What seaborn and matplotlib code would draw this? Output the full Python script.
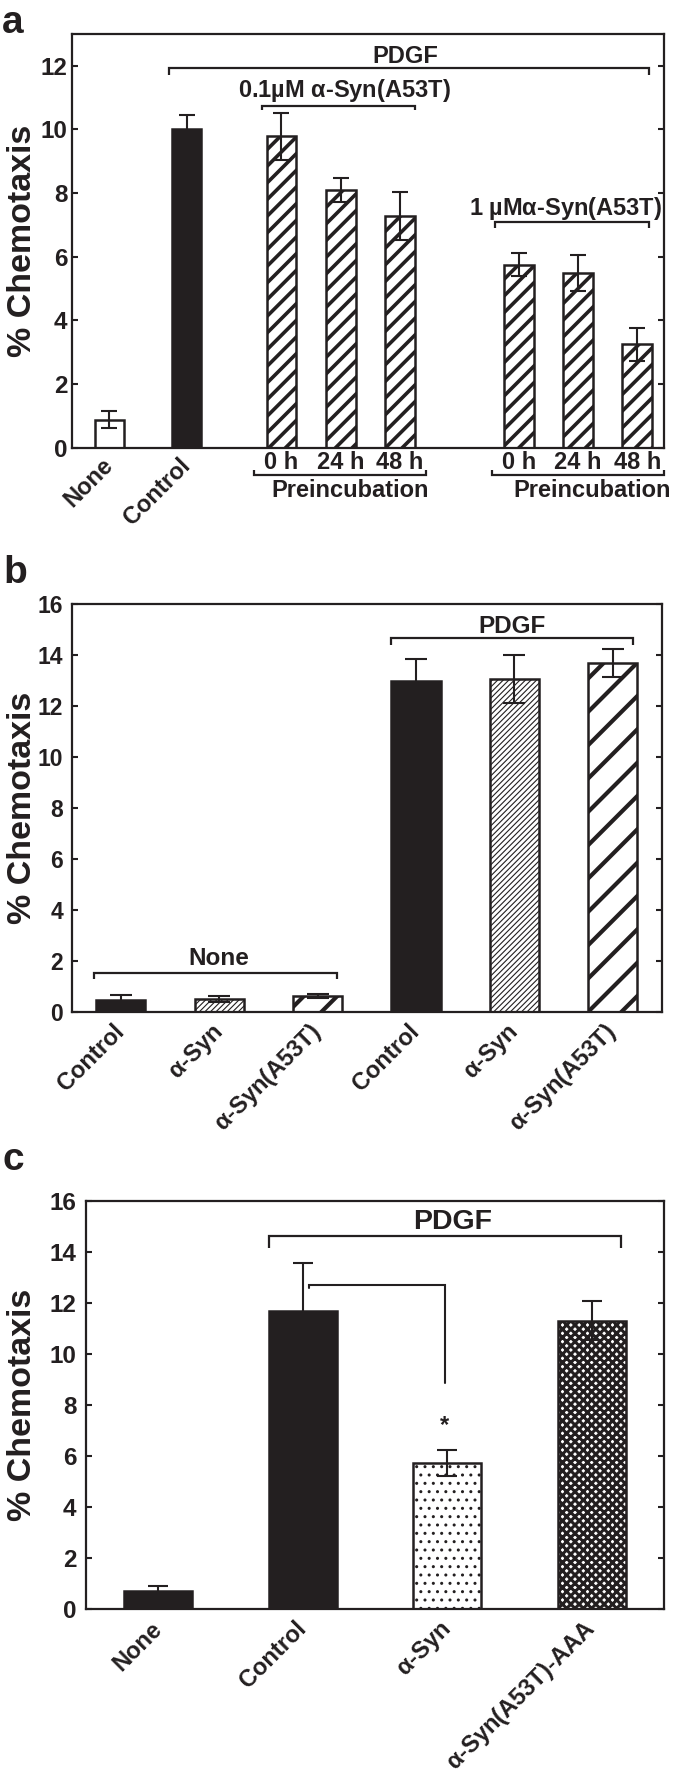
import numpy as np
import pandas as pd
import matplotlib
matplotlib.use("Agg")
import matplotlib.pyplot as plt
import matplotlib.transforms as mtransforms
import seaborn as sns

# ---------------- data ----------------
AL = r"$\mathrm{\alpha}$"
a_categories = ["None", "Control", "0 h", "24 h", "48 h", "0 h", "24 h", "48 h"]
a_values = [0.88, 10.02, 9.78, 8.10, 7.28, 5.75, 5.50, 3.25]
a_errors = [0.27, 0.44, 0.75, 0.38, 0.76, 0.37, 0.57, 0.51]

b_categories = ["Control", AL + "-Syn", AL + "-Syn(A53T)", "Control", AL + "-Syn", AL + "-Syn(A53T)"]
b_values = [0.47, 0.50, 0.62, 12.97, 13.05, 13.70]
b_errors = [0.18, 0.12, 0.08, 0.88, 0.95, 0.55]

c_categories = ["None", "Control", AL + "-Syn", AL + "-Syn(A53T)-AAA"]
c_values = [0.72, 11.70, 5.72, 11.31]
c_errors = [0.17, 1.85, 0.50, 0.78]

# ---------------- layout / style ----------------
a_positions = [0, 1.3, 2.9, 3.9, 4.9, 6.9, 7.9, 8.9]
b_positions = list(range(len(b_values)))
c_positions = list(range(len(c_values)))

BLACK = "#231f20"
a_styles = [("white", "", 1), (BLACK, "", 1)] + [("white", "//", 2.6)] * 6
b_styles = [(BLACK, "", 1), ("white", "//////", 0.8), ("white", "/", 3.0),
            (BLACK, "", 1), ("white", "//////", 0.8), ("white", "/", 3.0)]
c_styles = [(BLACK, "", 1), (BLACK, "", 1), ("white", "..", 1), ("white", "xxxx", 2.2)]

sns.set_theme(style="white")
plt.rcParams["font.family"] = ["Liberation Sans", "DejaVu Sans"]
plt.rcParams["font.weight"] = "bold"
plt.rcParams["axes.labelweight"] = "bold"
plt.rcParams["hatch.color"] = BLACK
plt.rcParams["hatch.linewidth"] = 2.0
plt.rcParams["text.color"] = BLACK
plt.rcParams["mathtext.fontset"] = "custom"
plt.rcParams["mathtext.rm"] = "Liberation Sans"
plt.rcParams["mathtext.it"] = "Liberation Sans:italic"
plt.rcParams["mathtext.bf"] = "Liberation Sans:bold"

W, H = 675, 1776
fig = plt.figure(figsize=(W / 100, H / 100), dpi=100)


def ax_rect(l, r, t, b):
    return [l / W, 1 - b / H, (r - l) / W, (b - t) / H]


axA = fig.add_axes(ax_rect(71.5, 664, 34, 447.7))
axB = fig.add_axes(ax_rect(71.7, 662, 604, 1012))
axC = fig.add_axes(ax_rect(86, 664, 1201, 1609))


def style_axes(ax, ymax, pad, left_px, width_px, ysize):
    ax.set_ylim(0, ymax)
    ax.set_yticks(np.arange(0, ymax + 0.1, 2) if ymax > 13 else np.arange(0, 13, 2))
    ax.set_facecolor("white")
    ax.grid(False)
    for s in ax.spines.values():
        s.set_visible(True)
        s.set_linewidth(1.6)
        s.set_color(BLACK)
    ax.tick_params(axis="y", which="both", direction="in", left=True, right=True,
                   length=4, width=1.5, color=BLACK, labelsize=ysize, pad=pad,
                   labelcolor=BLACK)
    ax.tick_params(axis="x", length=0, labelsize=17, labelcolor=BLACK, pad=2.5)
    ax.set_xlabel("")
    ax.set_ylabel("% Chemotaxis", fontsize=24.5, fontweight="bold", color=BLACK,
                  va="baseline")
    ax.yaxis.set_label_coords((31.0 - left_px) / width_px, 0.5)


def draw_bars(ax, positions, values, errors, styles, capsize):
    df = pd.DataFrame({"pos": positions, "value": values})
    sns.barplot(data=df, x="pos", y="value", native_scale=True, width=0.5,
                color="white", saturation=1, edgecolor=BLACK, linewidth=1.8,
                errorbar=None, ax=ax)
    for p, st in zip(ax.patches, styles):
        p.set_facecolor(st[0])
        p.set_hatch(st[1])
        if hasattr(p, "set_hatch_linewidth"):
            p.set_hatch_linewidth(st[2])
    ax.errorbar(positions, values, yerr=errors, fmt="none", ecolor=BLACK,
                elinewidth=1.5, capsize=capsize, capthick=1.5, zorder=5)


def bracket(ax, x0, x1, y, leg, transform=None, lw=1.6):
    kw = dict(color=BLACK, lw=lw, solid_joinstyle="miter", solid_capstyle="butt",
              clip_on=False)
    if transform is not None:
        kw["transform"] = transform
    ax.plot([x0, x0, x1, x1], [y + leg, y, y, y + leg], **kw)


def rotate_label(lbl, dy_px):
    lbl.set_rotation(45)
    lbl.set_ha("right")
    lbl.set_va("center")
    lbl.set_rotation_mode("anchor")
    off = mtransforms.ScaledTranslation(0, -dy_px / 100.0, fig.dpi_scale_trans)
    lbl.set_transform(lbl.get_transform() + off)


# ---------------- panel a ----------------
draw_bars(axA, a_positions, a_values, a_errors, a_styles, capsize=6)
style_axes(axA, 13, 3, 71.5, 592.5, 17.5)
axA.set_xlim(-0.64, 9.35)
axA.set_xticks(a_positions)
axA.set_xticklabels(a_categories)
for i, lbl in enumerate(axA.get_xticklabels()):
    if i < 2:
        rotate_label(lbl, 11)

bracket(axA, 1.007, 9.10, 11.92, -0.21)
axA.text(4.99, 12.09, "PDGF", ha="center", va="baseline", fontsize=17)
bracket(axA, 2.575, 5.155, 10.75, -0.15)
axA.text(3.96, 11.03, "0.1µM " + AL + "-Syn(A53T)", ha="center", va="baseline", fontsize=17)
bracket(axA, 6.50, 9.10, 7.10, -0.2)
axA.text(7.69, 7.31, "1 µM" + AL + "-Syn(A53T)", ha="center", va="baseline", fontsize=17)

transA = mtransforms.blended_transform_factory(axA.transData, axA.transAxes)
bracket(axA, 2.44, 5.34, -0.066, 0.013, transform=transA)
bracket(axA, 6.45, 9.35, -0.066, 0.013, transform=transA)
axA.text(4.06, -0.119, "Preincubation", ha="center", va="baseline", fontsize=17,
         transform=transA)
axA.text(8.14, -0.119, "Preincubation", ha="center", va="baseline", fontsize=17,
         transform=transA)

# ---------------- panel b ----------------
draw_bars(axB, b_positions, b_values, b_errors, b_styles, capsize=8)
style_axes(axB, 16, 6, 71.7, 590.3, 16.5)
axB.set_xlim(-0.5, 5.5)
axB.set_xticks(b_positions)
axB.set_xticklabels(b_categories)
for lbl in axB.get_xticklabels():
    rotate_label(lbl, 13)
bracket(axB, -0.27, 2.20, 1.51, -0.23)
axB.text(1.0, 1.86, "None", ha="center", va="baseline", fontsize=17.5)
bracket(axB, 2.75, 5.21, 14.66, -0.25)
axB.text(3.98, 14.87, "PDGF", ha="center", va="baseline", fontsize=17.5)

# ---------------- panel c ----------------
draw_bars(axC, c_positions, c_values, c_errors, c_styles, capsize=7)
for p in axC.patches:
    x0 = p.get_x() + p.get_width() / 2
    p.set_x(x0 - 0.235)
    p.set_width(0.47)
style_axes(axC, 16, 7, 86, 578, 17.5)
axC.set_xlim(-0.5, 3.5)
axC.set_xticks(c_positions)
axC.set_xticklabels(c_categories)
for lbl in axC.get_xticklabels():
    rotate_label(lbl, 13)
bracket(axC, 0.766, 3.2, 14.61, -0.46)
axC.text(2.04, 14.92, "PDGF", ha="center", va="baseline", fontsize=20.5)
axC.plot([1.044, 1.044, 1.983, 1.983], [12.57, 12.72, 12.72, 8.86], color=BLACK,
         lw=1.5, solid_joinstyle="miter")
axC.text(1.983, 7.2, "*", ha="center", va="center", fontsize=17)

# ---------------- panel letters ----------------
fig.text(2 / W, 1 - 33 / H, "a", fontsize=28, fontweight="bold", va="baseline")
fig.text(3 / W, 1 - 583 / H, "b", fontsize=28, fontweight="bold", va="baseline")
fig.text(3 / W, 1 - 1170 / H, "c", fontsize=28, fontweight="bold", va="baseline")

fig.savefig("out.png", dpi=100, facecolor="white")
